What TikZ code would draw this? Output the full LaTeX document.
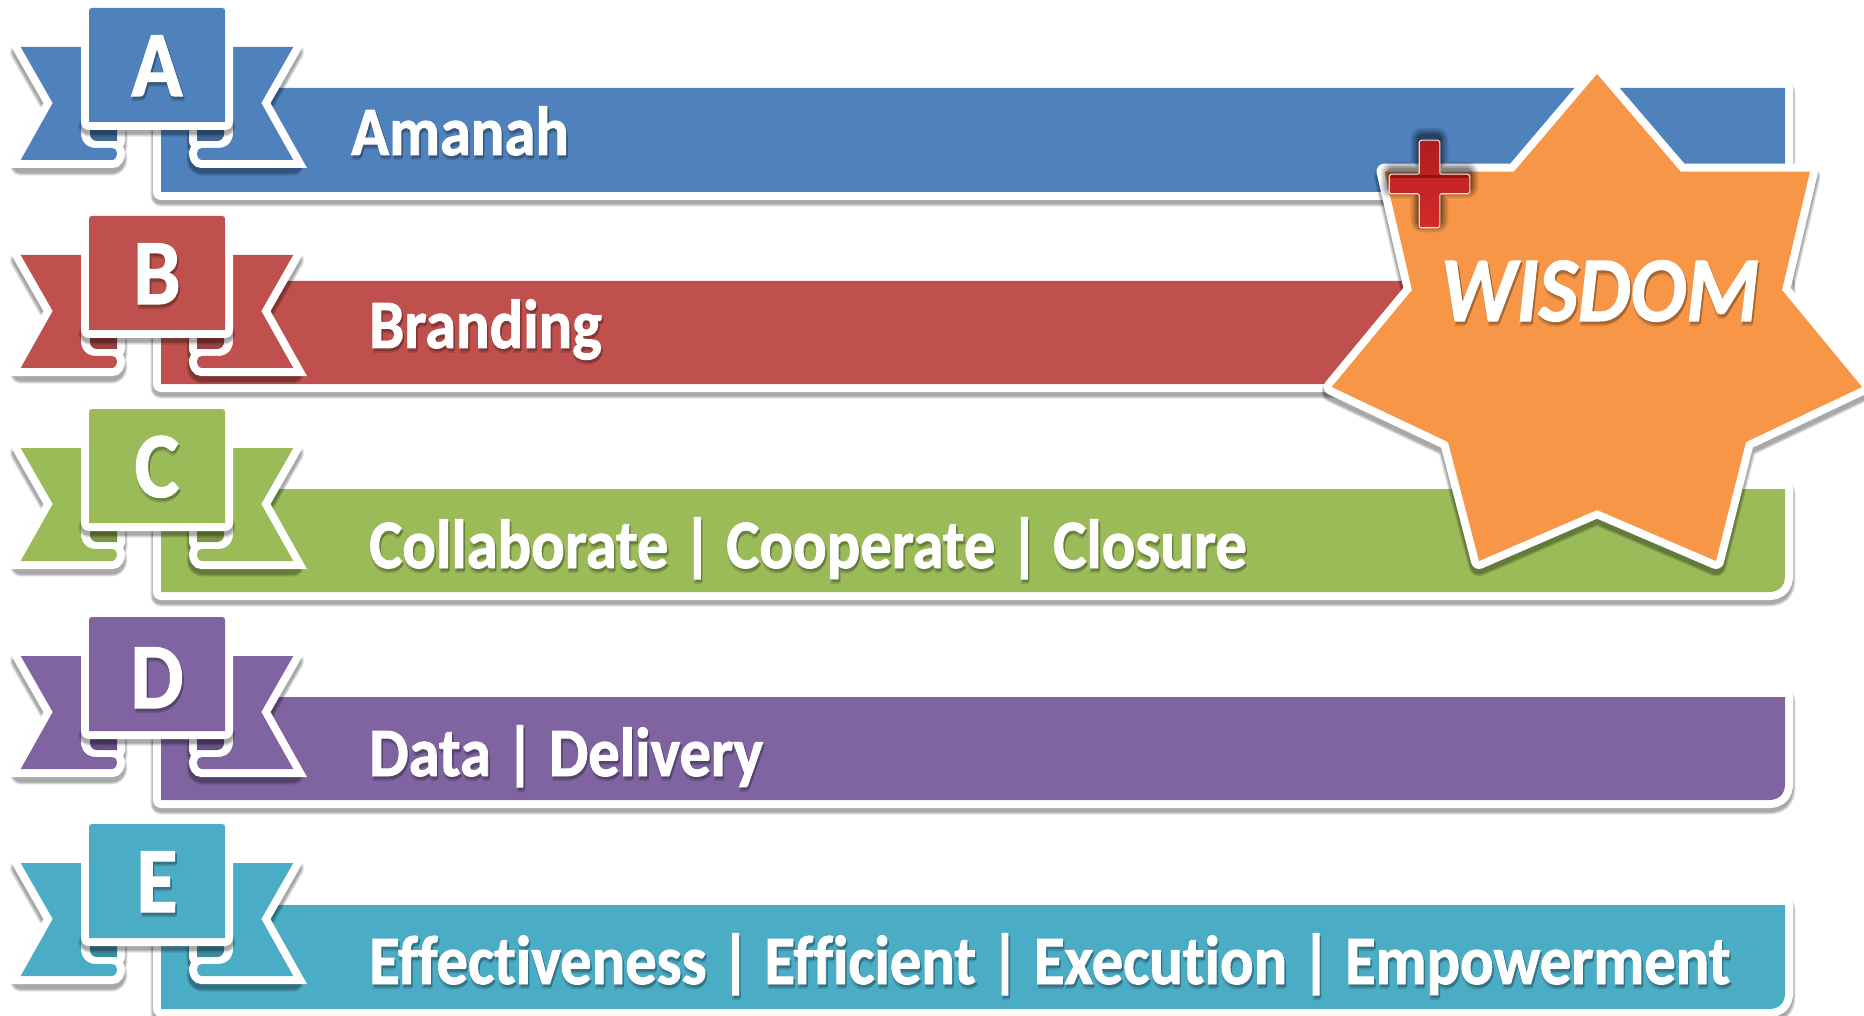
\documentclass[tikz,border=0pt]{standalone}
\usepackage{fontspec}
\newfontfamily\lab[FakeStretch=0.902,Ligatures=NoCommon,BoldFeatures={FakeBold=1.3},BoldItalicFeatures={FakeBold=1.1}]{Carlito}
\definecolor{cA}{HTML}{4F81BD}
\definecolor{cB}{HTML}{C0504D}
\definecolor{cC}{HTML}{9BBB59}
\definecolor{cD}{HTML}{8064A2}
\definecolor{cE}{HTML}{4BACC6}
\definecolor{cO}{HTML}{F79646}
\definecolor{plusTop}{HTML}{AE1E1E}
\definecolor{plusBot}{HTML}{D42A2A}
\definecolor{plusBar}{HTML}{C82626}
\definecolor{plusDark}{HTML}{8A1616}
\definecolor{plusEdge}{HTML}{F0D8D8}
\newcommand\shtxt[2]{\leavevmode\rlap{\kern0.3pt\lower3.4pt\hbox{\color{#1!86!black}#2}}\rlap{\kern1.2pt\lower2pt\hbox{\color{#1!68!black}#2}}{\color{white}#2}}
\tikzset{
  halo/.style={draw=white,line width=12pt,line join=round,line cap=round},
  halotail/.style={draw=white,line width=12pt,line join=miter,miter limit=4},
  bandtext/.style={anchor=base west,inner sep=0pt,font=\lab\bfseries\fontsize{52}{60}\selectfont},
  lettertext/.style={anchor=base,inner sep=0pt,font=\lab\bfseries\fontsize{70}{80}\selectfont},
}
% soft shadow: stroke of the given path, widened in layers
\newcommand\softshadow[2][4]{%
  \begin{scope}[shift={(0,#1)}]
    \foreach \w in {16,15,14,13,12}{
      \draw[black,opacity=0.08,line width=\w pt,line join=round,line cap=round] #2;
    }
  \end{scope}}
\def\tailpath{(20.7,47) -- (81,47) -- (81,133) .. controls (81,142) and (87,148) .. (96,148) -- (112,148) .. controls (115,148) and (117,150) .. (117,153) .. controls (117,157) and (115,160) .. (112,160) -- (20.7,160) -- (52.7,103) -- cycle}
\def\foldpath{(90,129) -- (117,129) -- (117,141) -- (97,141) .. controls (93,141) and (90,138) .. (90,134) -- cycle}
\def\tabpath{(92,8) -- (222,8) .. controls (224,8) and (225,9) .. (225,11) -- (225,122) -- (89,122) -- (89,11) .. controls (89,9) and (90,8) .. (92,8) -- cycle}
\newcommand\bandshape[3]{% y1,y2,colour
  \def\bp{(161,#1) -- (1785,#1) -- (1785,#2-16) .. controls (1785,#2-6) and (1779,#2) .. (1769,#2) -- (161,#2) -- cycle}
  \softshadow{\bp}
  \draw[halo] \bp;
  \fill[#3] \bp;}
\newcommand\ribbon[2]{% dy,colour
  \begin{scope}[shift={(0,#1)}]
    \softshadow[5]{\tailpath}\softshadow[5]{\foldpath}
    \begin{scope}[shift={(314,0)},xscale=-1]
      \softshadow[5]{\tailpath}\softshadow[5]{\foldpath}
    \end{scope}
    \draw[halotail] \tailpath; \draw[halo] \foldpath;
    \begin{scope}[shift={(314,0)},xscale=-1]
      \draw[halotail] \tailpath; \draw[halo] \foldpath;
    \end{scope}
    \fill[#2] \tailpath; \fill[#2!80!black] \foldpath;
    \begin{scope}[shift={(314,0)},xscale=-1]
      \fill[#2] \tailpath; \fill[#2!80!black] \foldpath;
    \end{scope}
    \softshadow[4]{(89,122) -- (225,122)}
    \draw[halo] \tabpath;
    \fill[#2] \tabpath;
  \end{scope}}
\def\starpath{(1597,74) -- (1680.6,171.6) -- (1810,171.6) -- (1782,290) -- (1862,387) -- (1746,442) -- (1716,561) -- (1597,510) -- (1479,561) -- (1448,442) -- (1331.7,387) -- (1412,290) -- (1384.5,171.6) -- (1514,171.6) -- cycle}
\def\crosspath{[rounded corners=1.6pt] (1420,141) -- (1439,141) -- (1439,175) -- (1469,175) -- (1469,193) -- (1439,193) -- (1439,227) -- (1420,227) -- (1420,193) -- (1390,193) -- (1390,175) -- (1420,175) -- cycle}
\begin{document}
\begin{tikzpicture}[x=0.75pt,y=-0.75pt]
\useasboundingbox (0,0) rectangle (1864,1016);
\clip (0,0) rectangle (1864,1016);
\fill[white] (0,0) rectangle (1864,1016);
\bandshape{88}{192}{cA}
\ribbon{0}{cA}
\bandshape{281}{384}{cB}
\ribbon{208}{cB}
\bandshape{489}{592}{cC}
\ribbon{401}{cC}
\bandshape{697}{800}{cD}
\ribbon{609}{cD}
\bandshape{905}{1009}{cE}
\ribbon{816}{cE}
\node[lettertext] (la) at (157,96) {\shtxt{cA}{A}};
\node[lettertext] (lb) at (157,304) {\shtxt{cB}{B}};
\node[lettertext] (lc) at (157,497) {\shtxt{cC}{C}};
\node[lettertext] (ld) at (157,708) {\shtxt{cD}{D}};
\node[lettertext] (le) at (157,912) {\shtxt{cE}{E}};
\node[bandtext] (ta) at (351,155) {\shtxt{cA}{Amanah}};
\node[bandtext] (tb) at (369,348) {\shtxt{cB}{Branding}};
\node[bandtext] (tc) at (369,568) {\shtxt{cC}{Collaborate | Cooperate | Closure}};
\node[bandtext] (td) at (369,776) {\shtxt{cD}{Data | Delivery}};
\node[bandtext] (te) at (369,984) {\shtxt{cE}{Effectiveness | Efficient | Execution | Empowerment}};
% star
\softshadow[5]{\starpath}
\draw[halo] \starpath;
\fill[cO] \starpath;
\node[anchor=base,inner sep=0pt,font=\lab\bfseries\itshape\fontsize{69.5}{78}\selectfont] (wis) at (1600,321) {\shtxt{cO}{WISDOM}};
% plus
\begin{scope}[shift={(0,-4)}]
  \foreach \w/\o in {14/0.10,11/0.12,8/0.16,5/0.22}{
    \draw[black,opacity=\o,line width=\w pt,line join=round] \crosspath;
  }
\end{scope}
\draw[draw=plusEdge,line width=2.2pt,line join=round] \crosspath;
\fill[top color=plusTop,bottom color=plusBot,draw=none] \crosspath;
\fill[plusBar] (1391,178) -- (1468,178) -- (1468,192) -- (1391,192) -- cycle;
\fill[plusDark] (1391,175.5) -- (1468,175.5) -- (1468,178.5) -- (1391,178.5) -- cycle;
\end{tikzpicture}
\end{document}
